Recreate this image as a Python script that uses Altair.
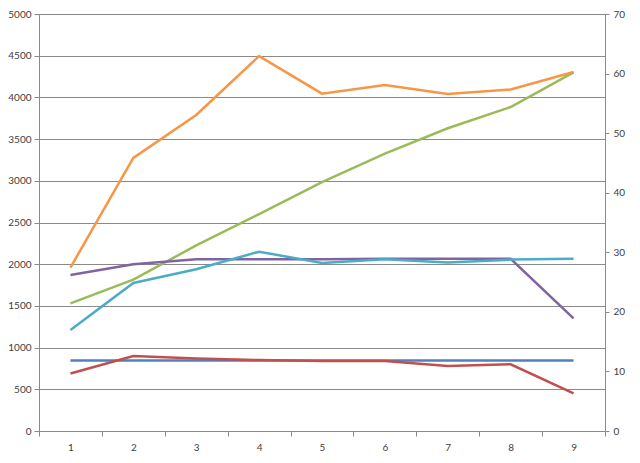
import altair as alt
import pandas as pd

categories = [1, 2, 3, 4, 5, 6, 7, 8, 9]
series_names = ["S1", "S2", "S3", "S4", "S5", "S6"]
series_colors = ["#4F81BD", "#C0504D", "#9BBB59", "#8064A2", "#4BACC6", "#F79646"]

s1_blue = [845, 845, 845, 845, 845, 845, 845, 845, 845]
s2_red = [690, 900, 870, 850, 840, 840, 780, 800, 450]
s3_green = [1530, 1815, 2225, 2600, 2985, 3325, 3630, 3885, 4300]
s4_purple = [1870, 2000, 2060, 2060, 2060, 2065, 2065, 2065, 1350]
s5_teal = [1210, 1775, 1940, 2150, 2015, 2060, 2020, 2055, 2065]
s6_orange = [1960, 3275, 3790, 4495, 4045, 4150, 4040, 4095, 4305]

left_ticks = list(range(0, 5001, 500))
right_ticks = [0, 10, 20, 30, 40, 50, 60, 70]

all_series = [s1_blue, s2_red, s3_green, s4_purple, s5_teal, s6_orange]
rows = []
for name, vals in zip(series_names, all_series):
    for c, v in zip(categories, vals):
        rows.append({"cat": c, "value": v, "series": name})
df = pd.DataFrame(rows)
df_right = pd.DataFrame({"r": right_ticks})

FONT = "Lato"
GRID = "#8a8a8a"
LABEL = "#404040"

lines = alt.Chart(df).mark_line(strokeWidth=2.5).encode(
    x=alt.X("cat:O", bandPosition=0.5,
            scale=alt.Scale(type="band", paddingInner=0, paddingOuter=0),
            axis=alt.Axis(title=None, labelAngle=0, tickBand="extent", grid=False,
                          domainColor=GRID, tickColor=GRID, tickSize=5,
                          labelPadding=6, labelFont=FONT, labelFontSize=10,
                          labelColor=LABEL)),
    y=alt.Y("value:Q", scale=alt.Scale(domain=[0, 5000], nice=False),
            axis=alt.Axis(title=None, values=left_ticks, format="d", grid=True,
                          gridColor=GRID, gridWidth=1, domainColor=GRID,
                          tickColor=GRID, tickSize=5, labelPadding=3,
                          labelFont=FONT, labelFontSize=10, labelColor=LABEL)),
    color=alt.Color("series:N", scale=alt.Scale(domain=series_names, range=series_colors),
                    legend=None),
    order=alt.Order("cat:Q"),
)

right = alt.Chart(df_right).mark_rule(opacity=0).encode(
    y=alt.Y("r:Q", scale=alt.Scale(domain=[0, 70], nice=False),
            axis=alt.Axis(title=None, orient="right", values=right_ticks, grid=False,
                          domainColor=GRID, tickColor=GRID, tickSize=4, labelPadding=4,
                          labelFont=FONT, labelFontSize=10, labelColor=LABEL)),
)

chart = alt.layer(lines, right).resolve_scale(y="independent").properties(
    width=566, height=417,
    autosize=alt.AutoSizeParams(type="none"),
    padding={"left": 31, "top": 6, "right": 25, "bottom": 24},
    background="white",
).configure_view(stroke=None)

chart.save("out.html", embed_options={"renderer": "svg", "actions": False})
